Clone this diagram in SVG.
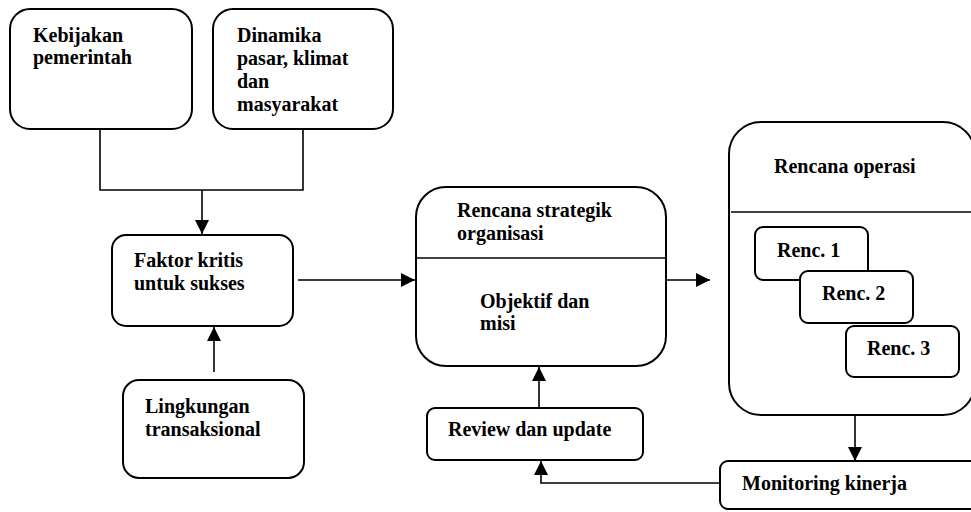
<svg xmlns="http://www.w3.org/2000/svg" width="971" height="512" viewBox="0 0 971 512">
<defs>
<style>
.box{fill:#fff;stroke:#000;stroke-width:2}
.ln{fill:none;stroke:#000;stroke-width:1.6}
text{font-family:"Liberation Serif","Times New Roman","DejaVu Serif",serif;font-weight:bold;font-size:20px;fill:#000}
</style>
<marker id="ahL" viewBox="0 0 14 14" refX="14" refY="7" markerWidth="14" markerHeight="14" markerUnits="userSpaceOnUse" orient="auto">
<path d="M0,0 L14,7 L0,14 Z" fill="#000"/>
</marker>
</defs>
<rect width="971" height="512" fill="#fff"/>
<g id="connectors">
<polyline class="ln" points="100,129 100,190 303,190 303,129"/>
<line class="ln" x1="202" y1="190" x2="202" y2="234" marker-end="url(#ahL)"/>
<line class="ln" x1="298" y1="280" x2="415" y2="280" marker-end="url(#ahL)"/>
<line class="ln" x1="214" y1="372" x2="214" y2="327" marker-end="url(#ahL)"/>
<line class="ln" x1="666" y1="280" x2="710" y2="280" marker-end="url(#ahL)"/>
<line class="ln" x1="539" y1="408" x2="539" y2="367" marker-end="url(#ahL)"/>
<line class="ln" x1="855" y1="415" x2="855" y2="461" marker-end="url(#ahL)"/>
<polyline class="ln" points="720,483 541,483 541,461" marker-end="url(#ahL)"/>
</g>
<g id="kebijakan">
<rect class="box" x="10" y="9" width="182" height="120" rx="20"/>
<text x="33" y="42">Kebijakan</text>
<text x="33" y="64">pemerintah</text>
</g>
<g id="dinamika">
<rect class="box" x="213" y="9" width="180" height="120" rx="20"/>
<text x="237" y="42">Dinamika</text>
<text x="237" y="65">pasar, klimat</text>
<text x="237" y="88">dan</text>
<text x="237" y="111">masyarakat</text>
</g>
<g id="faktor">
<rect class="box" x="112" y="235" width="181" height="91" rx="14"/>
<text x="134" y="267">Faktor kritis</text>
<text x="134" y="290">untuk sukses</text>
</g>
<g id="lingkungan">
<rect class="box" x="123" y="380" width="181" height="98" rx="16"/>
<text x="145" y="413">Lingkungan</text>
<text x="145" y="436">transaksional</text>
</g>
<g id="strategik">
<rect class="box" x="416" y="187" width="250" height="179" rx="30"/>
<line class="ln" x1="416" y1="258" x2="666" y2="258"/>
<text x="457" y="217">Rencana strategik</text>
<text x="457" y="240">organisasi</text>
<text x="480" y="308">Objektif dan</text>
<text x="480" y="330">misi</text>
</g>
<g id="review">
<rect class="box" x="427" y="408" width="216" height="52" rx="8"/>
<text x="448" y="436">Review dan update</text>
</g>
<g id="operasi">
<rect class="box" x="729" y="122" width="246" height="293" rx="32"/>
<line class="ln" x1="731" y1="212" x2="971" y2="212"/>
<text x="774" y="173">Rencana operasi</text>
</g>
<g id="renc1">
<rect class="box" x="755" y="227" width="113" height="53" rx="8"/>
<text x="777" y="257">Renc. 1</text>
</g>
<g id="renc2">
<rect class="box" x="800" y="271" width="113" height="52" rx="8"/>
<text x="822" y="300">Renc. 2</text>
</g>
<g id="renc3">
<rect class="box" x="846" y="326" width="113" height="51" rx="8"/>
<text x="867" y="355">Renc. 3</text>
</g>
<g id="monitoring">
<rect class="box" x="720" y="461" width="270" height="48" rx="8"/>
<text x="742" y="490">Monitoring kinerja</text>
</g>
</svg>
